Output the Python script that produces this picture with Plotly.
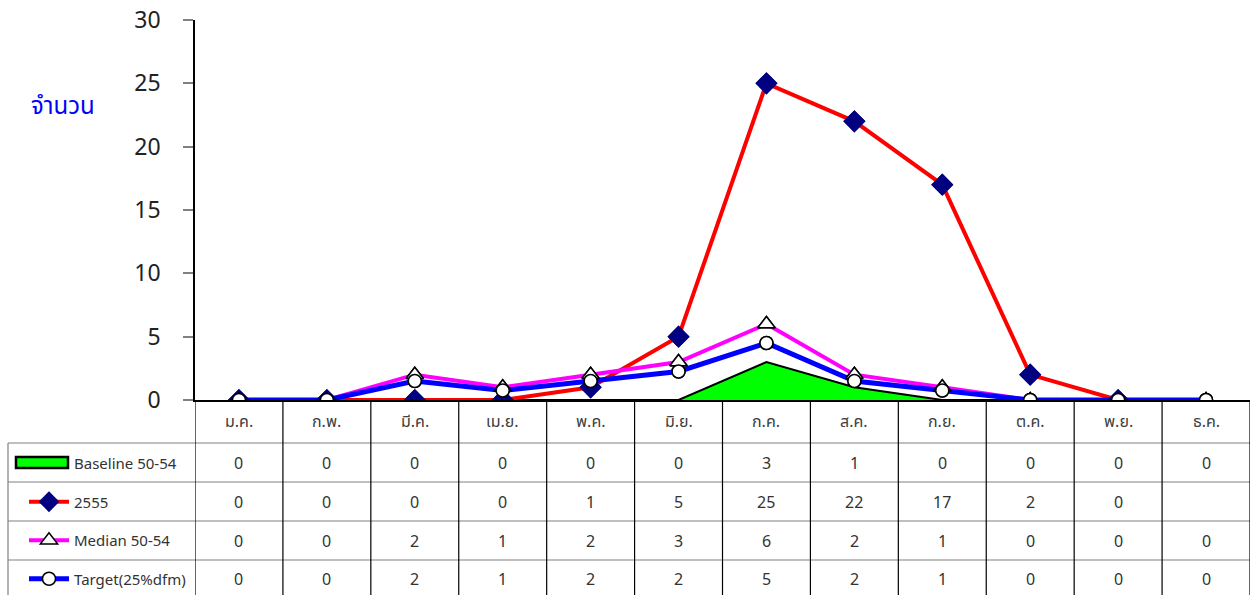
import plotly.graph_objects as go

months = ["ม.ค.", "ก.พ.", "มี.ค.", "เม.ย.", "พ.ค.", "มิ.ย.",
          "ก.ค.", "ส.ค.", "ก.ย.", "ต.ค.", "พ.ย.", "ธ.ค."]
baseline = [0, 0, 0, 0, 0, 0, 3, 1, 0, 0, 0, 0]
y2555 = [0, 0, 0, 0, 1, 5, 25, 22, 17, 2, 0, None]
median = [0, 0, 2, 1, 2, 3, 6, 2, 1, 0, 0, 0]
target = [0, 0, 1.5, 0.75, 1.5, 2.25, 4.5, 1.5, 0.75, 0, 0, 0]
target_shown = [0, 0, 2, 1, 2, 2, 5, 2, 1, 0, 0, 0]
series_names = ["Baseline 50-54", "2555", "Median 50-54", "Target(25%dfm)"]

W, H = 1259, 595
# plot area, in window pixels
PL, PR, PT, PB = 195, 1250, 20, 400
FONT = "Noto Sans, Noto Sans Thai, Tahoma, sans-serif"


def py(p):
    # window pixel row -> paper y
    return (PB - p) / (PB - PT)


def px(p):
    return (p - PL) / (PR - PL)


x = list(range(12))
fig = go.Figure()

fig.add_trace(go.Scatter(
    x=x, y=baseline, mode="lines", fill="tozeroy", showlegend=False,
    fillcolor="#00ff00", line=dict(color="black", width=2)))
# legend entry only; its symbol is drawn as a shape below
fig.add_trace(go.Scatter(
    x=[None], y=[None], name=series_names[0], mode="lines",
    line=dict(color="rgba(0,0,0,0)", width=1), legendgroup="a"))
fig.add_trace(go.Scatter(
    x=x, y=y2555, name=series_names[1], mode="lines+markers",
    line=dict(color="#ff0000", width=4),
    marker=dict(symbol="diamond", size=17, color="#000080"), legendgroup="b"))
fig.add_trace(go.Scatter(
    x=x, y=median, name=series_names[2], mode="lines+markers",
    line=dict(color="#ff00ff", width=4),
    marker=dict(symbol="triangle-up", size=15, color="white",
                line=dict(color="black", width=1.5)), legendgroup="c"))
fig.add_trace(go.Scatter(
    x=x, y=target, name=series_names[3], mode="lines+markers",
    line=dict(color="#0000ff", width=5),
    marker=dict(symbol="circle", size=13, color="white",
                line=dict(color="black", width=1.5)), legendgroup="d"))

# markers again on top of all lines
fig.add_trace(go.Scatter(x=x, y=y2555, mode="markers", showlegend=False,
                         marker=dict(symbol="diamond", size=17, color="#000080")))
fig.add_trace(go.Scatter(x=x, y=median, mode="markers", showlegend=False,
                         marker=dict(symbol="triangle-up", size=15, color="white",
                                     line=dict(color="black", width=1.5))))
fig.add_trace(go.Scatter(x=x, y=target, mode="markers", showlegend=False,
                         marker=dict(symbol="circle", size=13, color="white",
                                     line=dict(color="black", width=1.5))))

shapes = []
# table grid
for r in [443, 482, 521, 560]:
    shapes.append(dict(type="line", xref="paper", yref="paper",
                       x0=px(8), x1=1.0, y0=py(r), y1=py(r),
                       line=dict(color="#808080", width=1.2)))
shapes.append(dict(type="line", xref="paper", yref="paper", x0=px(8), x1=px(8),
                   y0=py(443), y1=py(600), line=dict(color="#808080", width=1.2)))
for i in range(13):
    shapes.append(dict(type="line", xref="x", yref="paper", x0=i - 0.5, x1=i - 0.5,
                       y0=0, y1=py(600), line=dict(color="black", width=1.2)))
# baseline legend key
shapes.append(dict(type="rect", xref="paper", yref="paper",
                   x0=px(16), x1=px(68), y0=py(457), y1=py(468),
                   fillcolor="#00ff00", line=dict(color="black", width=2.5)))

annotations = []
for i, m in enumerate(months):
    annotations.append(dict(x=i, y=py(421), xref="x", yref="paper", text=m,
                            yanchor="middle", showarrow=False,
                            font=dict(size=16, color="#404040", family=FONT)))
rows = [baseline, y2555, median, target_shown]
row_centers = [463, 502, 541, 579]
for vals, rc in zip(rows, row_centers):
    for i, v in enumerate(vals):
        if v is None:
            continue
        annotations.append(dict(x=i, y=py(rc), xref="x", yref="paper", text=str(v),
                                yanchor="middle", showarrow=False,
                                font=dict(size=16, color="#333333", family=FONT)))
annotations.append(dict(x=px(63), y=py(104), xref="paper", yref="paper", text="จำนวน",
                        xanchor="center", yanchor="middle", showarrow=False,
                        font=dict(size=24, color="#0000ff", family=FONT)))

fig.update_layout(
    width=W, height=H,
    margin=dict(l=PL, r=W - PR, t=PT, b=H - PB, pad=0, autoexpand=False),
    plot_bgcolor="white", paper_bgcolor="white",
    font=dict(family=FONT, color="#333333"),
    showlegend=True,
    legend=dict(x=px(24), y=py(447), xanchor="left", yanchor="top",
                traceorder="grouped", tracegroupgap=16,
                font=dict(size=15, color="#333333"), bgcolor="rgba(0,0,0,0)",
                itemwidth=40),
    xaxis=dict(range=[-0.5, 11.5], showticklabels=False, ticks="", showgrid=False,
               zeroline=False, showline=True, linecolor="black", linewidth=1.5),
    yaxis=dict(range=[0, 30], tickvals=[0, 5, 10, 15, 20, 25, 30], showgrid=False,
               zeroline=False, showline=True, linecolor="black", linewidth=1.5,
               ticks="outside", ticklen=10, tickcolor="#808080", tickwidth=1.5,
               ticklabelstandoff=18, tickfont=dict(size=23, color="#222222", family=FONT)),
    shapes=shapes,
    annotations=annotations,
)

# drop the default 8px body margin so the figure fills the window exactly
fig.write_html("out.html", config={"displayModeBar": False},
               post_script="document.body.style.margin = '0px';")
